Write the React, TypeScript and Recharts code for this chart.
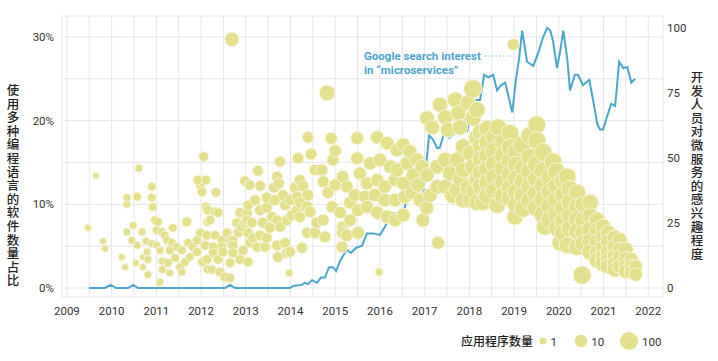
import { ComposedChart, Scatter, Line, XAxis, YAxis, CartesianGrid } from "recharts";

// [year, share of apps using several languages (%), number of apps]
type Bubble = [number, number, number];

const apps2009to2011: Bubble[] = [
  [2009.47, 7.2, 1], [2009.65, 13.4, 1], [2009.81, 5.6, 1], [2009.85, 4.7, 1],
  [2010.23, 3.7, 1], [2010.3, 2.5, 1], [2010.34, 10.0, 1.5], [2010.34, 10.8, 1.5],
  [2010.34, 6.7, 1.5], [2010.45, 5.7, 1.5], [2010.48, 7.5, 1.5], [2010.54, 3.0, 1],
  [2010.57, 10.9, 2], [2010.57, 5.1, 1.5], [2010.61, 14.3, 1.5], [2010.68, 6.7, 1.5],
  [2010.7, 3.7, 1], [2010.7, 2.5, 1], [2010.77, 5.6, 1.5], [2010.79, 4.3, 1.5],
  [2010.81, 3.4, 1.5], [2010.81, 1.6, 1.5], [2010.9, 12.1, 2], [2010.9, 10.8, 2],
  [2010.92, 9.7, 2], [2010.9, 5.3, 1.5], [2010.97, 8.1, 2], [2011.04, 7.9, 2],
  [2011.01, 6.9, 2], [2011.01, 5.1, 1.5], [2011.08, 4.5, 1.5], [2011.08, 0.7, 1.5],
  [2011.13, 6.7, 2], [2011.13, 3.2, 1.5], [2011.13, 2.2, 1.5], [2011.19, 6.3, 2],
  [2011.24, 5.7, 2], [2011.26, 3.0, 2], [2011.3, 4.5, 2], [2011.3, 1.8, 1.5],
  [2011.35, 5.4, 2], [2011.37, 7.2, 2], [2011.42, 3.6, 2], [2011.46, 4.9, 2],
  [2011.53, 2.5, 2], [2011.57, 4.5, 2], [2011.57, 1.9, 1.5], [2011.64, 3.1, 2],
  [2011.68, 7.9, 3.5], [2011.71, 5.4, 2], [2011.75, 3.7, 2], [2011.82, 4.9, 2.5],
  [2011.91, 5.7, 2.5], [2011.91, 4.3, 2.5], [2011.98, 6.6, 2.5], [2011.98, 12.3, 3],
  [2011.93, 12.9, 3],
];

const apps2012to2013: Bubble[] = [
  [2012.02, 11.5, 3], [2012.02, 3.1, 2.5], [2012.06, 15.7, 3.5], [2012.09, 5.1, 3],
  [2012.11, 12.9, 3], [2012.11, 9.7, 3], [2012.13, 6.3, 3], [2012.13, 3.4, 3],
  [2012.15, 9.3, 3], [2012.15, 7.9, 3], [2012.15, 2.2, 2.5], [2012.2, 8.1, 3],
  [2012.24, 2.2, 2.5], [2012.27, 4.9, 3], [2012.27, 4.2, 3], [2012.31, 9.1, 3],
  [2012.31, 6.3, 3], [2012.33, 11.4, 3], [2012.38, 9.0, 3], [2012.38, 3.4, 3],
  [2012.42, 1.9, 3], [2012.47, 5.7, 3], [2012.47, 4.9, 3], [2012.49, 4.3, 3],
  [2012.53, 1.3, 3], [2012.58, 6.6, 3], [2012.65, 5.7, 3], [2012.65, 3.0, 3],
  [2012.65, 1.2, 3], [2012.69, 29.7, 20], [2012.71, 5.7, 3.5], [2012.71, 5.1, 3.5],
  [2012.71, 4.2, 3.5], [2012.8, 7.8, 3.5], [2012.83, 6.6, 3.5], [2012.87, 9.0, 4],
  [2012.87, 3.4, 3.5], [2012.91, 7.3, 4], [2012.94, 4.5, 3.5], [2012.98, 12.8, 4],
  [2012.98, 7.8, 4], [2013.03, 9.0, 4], [2013.03, 8.1, 4], [2013.05, 9.9, 4],
  [2013.05, 6.6, 4], [2013.05, 3.1, 3.5], [2013.09, 12.3, 4], [2013.09, 5.4, 4],
  [2013.14, 7.8, 4], [2013.16, 6.0, 4], [2013.21, 10.5, 4.5], [2013.25, 4.9, 4],
  [2013.27, 14.0, 5], [2013.32, 12.2, 5], [2013.32, 9.3, 5], [2013.32, 6.3, 4.5],
  [2013.38, 7.8, 5], [2013.43, 4.9, 4.5], [2013.47, 10.8, 5], [2013.47, 9.6, 5],
  [2013.47, 6.0, 5], [2013.54, 7.2, 5], [2013.59, 8.5, 5], [2013.63, 12.0, 5],
  [2013.65, 10.5, 5], [2013.7, 13.3, 5.5], [2013.7, 8.1, 5], [2013.7, 5.1, 5],
  [2013.72, 3.7, 5], [2013.74, 12.5, 5.5], [2013.77, 15.1, 5.5], [2013.77, 7.3, 5],
  [2013.83, 11.1, 5.5], [2013.88, 9.9, 5.5], [2013.88, 5.4, 5], [2013.92, 8.1, 5.5],
  [2013.92, 4.2, 5], [2013.97, 1.8, 1.5], [2013.99, 10.5, 5.5], [2013.99, 4.3, 5],
];

const apps2014to2016: Bubble[] = [
  [2014.03, 8.7, 6], [2014.1, 12.0, 6], [2014.15, 10.9, 6], [2014.15, 9.3, 6],
  [2014.17, 15.5, 6], [2014.21, 12.9, 6], [2014.21, 10.2, 6], [2014.21, 8.5, 6],
  [2014.26, 4.8, 6], [2014.28, 12.2, 6], [2014.37, 9.7, 7], [2014.37, 6.6, 6],
  [2014.39, 18.0, 7], [2014.39, 11.1, 7], [2014.44, 9.1, 7], [2014.46, 16.0, 7],
  [2014.55, 14.1, 7], [2014.55, 6.6, 7], [2014.59, 7.8, 7], [2014.7, 14.1, 8],
  [2014.73, 12.7, 8], [2014.73, 8.1, 8], [2014.77, 6.1, 8], [2014.82, 23.3, 40],
  [2014.84, 11.4, 8], [2014.91, 17.9, 9], [2014.93, 9.7, 9], [2014.95, 15.3, 9],
  [2015.0, 16.4, 9], [2015.0, 12.3, 9], [2015.11, 9.0, 10], [2015.15, 4.9, 8],
  [2015.17, 13.3, 10], [2015.17, 7.3, 10], [2015.17, 6.6, 10], [2015.26, 12.1, 10],
  [2015.26, 6.3, 10], [2015.33, 10.2, 11], [2015.33, 8.1, 11], [2015.44, 11.1, 12],
  [2015.49, 17.9, 12], [2015.49, 15.5, 12], [2015.51, 9.3, 12], [2015.51, 6.6, 12],
  [2015.55, 13.7, 12], [2015.67, 10.9, 13], [2015.71, 12.5, 13], [2015.71, 9.7, 13],
  [2015.78, 14.9, 14], [2015.89, 11.1, 14], [2015.94, 18.0, 14], [2015.94, 12.9, 14],
  [2015.94, 9.0, 14], [2015.98, 1.9, 1.5], [2016.0, 15.3, 15], [2016.11, 12.1, 15],
  [2016.11, 10.5, 15], [2016.16, 17.3, 16], [2016.16, 8.5, 15], [2016.23, 14.5, 16],
  [2016.34, 12.9, 17], [2016.34, 10.5, 17], [2016.34, 8.1, 16], [2016.38, 16.5, 17],
  [2016.38, 14.1, 17], [2016.52, 17.1, 18], [2016.52, 12.5, 18], [2016.52, 8.7, 17],
  [2016.56, 10.9, 18], [2016.61, 14.9, 19], [2016.67, 16.3, 19], [2016.72, 11.4, 19],
  [2016.74, 13.5, 20], [2016.83, 15.3, 20], [2016.85, 12.3, 20], [2016.9, 10.5, 20],
  [2016.94, 14.5, 22], [2016.96, 8.1, 18],
];

const apps2017to2018: Bubble[] = [
  [2017.05, 20.3, 25], [2017.05, 13.5, 22], [2017.05, 9.6, 20], [2017.12, 11.1, 22],
  [2017.17, 19.2, 25], [2017.28, 14.5, 25], [2017.28, 12.1, 25], [2017.3, 5.4, 12],
  [2017.34, 21.9, 28], [2017.46, 20.4, 30], [2017.46, 15.3, 30], [2017.46, 12.1, 30],
  [2017.52, 18.9, 30], [2017.57, 13.7, 32], [2017.62, 11.0, 32], [2017.68, 22.5, 35],
  [2017.72, 15.3, 35], [2017.72, 11.7, 35], [2017.75, 20.9, 35], [2017.79, 19.2, 35],
  [2017.8, 13.0, 38], [2017.86, 16.9, 40], [2017.86, 14.1, 40], [2017.86, 10.5, 40],
  [2017.97, 22.1, 40], [2017.97, 12.0, 42], [2018.02, 16.1, 45], [2018.02, 10.5, 45],
  [2018.08, 23.8, 120], [2018.08, 20.3, 45], [2018.08, 14.5, 50], [2018.1, 11.6, 50],
  [2018.17, 21.3, 50], [2018.17, 18.0, 55], [2018.17, 12.9, 55], [2018.17, 10.2, 55],
];

const apps2018to2019: Bubble[] = [
  [2018.25, 18.6, 60], [2018.25, 17.0, 60], [2018.25, 15.4, 60], [2018.25, 13.8, 60],
  [2018.25, 12.2, 60], [2018.31, 10.2, 60],
  [2018.4, 19.0, 70], [2018.4, 17.4, 70], [2018.4, 15.8, 70], [2018.4, 14.2, 70],
  [2018.4, 12.6, 70], [2018.4, 11.0, 70],
  [2018.55, 18.0, 75], [2018.55, 16.4, 75], [2018.55, 14.8, 75], [2018.55, 13.2, 75],
  [2018.55, 11.6, 75], [2018.62, 9.9, 60], [2018.64, 19.2, 70],
  [2018.75, 17.4, 80], [2018.75, 15.8, 80], [2018.75, 14.2, 80], [2018.75, 12.6, 80],
  [2018.75, 11.0, 80],
  [2018.91, 18.5, 85], [2018.91, 16.8, 85], [2018.91, 15.2, 85], [2018.91, 13.6, 85],
  [2018.91, 12.0, 85], [2018.91, 10.8, 85], [2018.98, 29.1, 8], [2019.02, 8.5, 50],
  [2019.05, 16.3, 90], [2019.05, 14.7, 90], [2019.05, 13.1, 90], [2019.05, 11.5, 90],
  [2019.05, 10.0, 90], [2019.18, 17.1, 90],
  [2019.2, 14.3, 90], [2019.2, 12.7, 90], [2019.2, 11.0, 90], [2019.2, 9.5, 90],
  [2019.35, 18.2, 95], [2019.35, 15.6, 95], [2019.35, 13.9, 95], [2019.35, 12.2, 95],
  [2019.35, 10.5, 95],
  [2019.51, 19.5, 100], [2019.51, 17.6, 100], [2019.5, 14.8, 100], [2019.5, 13.0, 100],
  [2019.5, 11.3, 100], [2019.5, 9.6, 100],
  [2019.65, 16.2, 100], [2019.65, 14.0, 100], [2019.65, 12.3, 100], [2019.65, 10.6, 100],
  [2019.65, 8.8, 100], [2019.69, 7.3, 60],
  [2019.8, 13.2, 95], [2019.8, 11.5, 95], [2019.8, 9.8, 95], [2019.8, 8.2, 95],
  [2019.87, 15.1, 90],
  [2019.95, 13.9, 90], [2019.95, 12.2, 90], [2019.95, 10.5, 90], [2019.95, 8.8, 90],
  [2019.96, 7.2, 80],
];

const apps2020to2021: Bubble[] = [
  [2020.03, 5.4, 60],
  [2020.1, 12.8, 80], [2020.1, 11.1, 80], [2020.1, 9.5, 80], [2020.1, 7.9, 80],
  [2020.1, 6.6, 80], [2020.19, 13.3, 80], [2020.19, 5.1, 55],
  [2020.25, 11.8, 75], [2020.25, 10.2, 75], [2020.25, 8.6, 75], [2020.25, 7.1, 75],
  [2020.41, 11.4, 70], [2020.41, 9.7, 70], [2020.41, 8.2, 70], [2020.41, 6.8, 70],
  [2020.41, 4.9, 70], [2020.52, 1.55, 110],
  [2020.55, 10.0, 60], [2020.55, 8.1, 60], [2020.55, 6.6, 60], [2020.55, 5.3, 60],
  [2020.7, 10.2, 55], [2020.7, 8.6, 50], [2020.7, 7.0, 50], [2020.7, 5.6, 50],
  [2020.7, 4.3, 50],
  [2020.86, 8.1, 45], [2020.86, 6.9, 45], [2020.86, 5.5, 45], [2020.86, 4.2, 45],
  [2020.86, 3.3, 45],
  [2020.99, 7.3, 40], [2020.99, 6.0, 40], [2020.99, 4.8, 40], [2020.99, 3.7, 40],
  [2020.99, 2.9, 40],
  [2021.1, 6.6, 35], [2021.1, 5.5, 35], [2021.1, 4.3, 35], [2021.1, 3.4, 35],
  [2021.1, 2.6, 35],
  [2021.25, 6.0, 32], [2021.25, 4.9, 32], [2021.25, 3.8, 32], [2021.25, 2.9, 32],
  [2021.25, 2.2, 32],
  [2021.37, 5.7, 28], [2021.37, 4.6, 28], [2021.37, 3.7, 28], [2021.37, 2.6, 28],
  [2021.5, 4.6, 25], [2021.5, 3.5, 25], [2021.5, 2.6, 25], [2021.5, 2.0, 25],
  [2021.62, 3.4, 20], [2021.62, 2.6, 20], [2021.62, 1.9, 20],
  [2021.72, 2.6, 15], [2021.72, 1.6, 15],
];

// Google search interest in "microservices", [year, interest 0-100]
const searchInterest: [number, number][] = [
  [2009.49, 0], [2009.85, 0], [2009.98, 1.2], [2010.1, 0], [2010.37, 0], [2010.48, 1.2],
  [2010.59, 0], [2012.53, 0], [2012.65, 1.2], [2012.76, 0], [2013.99, 0],
  [2014.06, 0.8], [2014.26, 1.2], [2014.32, 2], [2014.39, 1.5], [2014.48, 3], [2014.59, 2],
  [2014.68, 4], [2014.77, 4], [2014.86, 8], [2014.95, 8], [2015.02, 6.5], [2015.11, 10.5],
  [2015.26, 14.8], [2015.35, 13.5], [2015.47, 15.5], [2015.6, 16.3], [2015.71, 21],
  [2015.85, 21], [2016.0, 20.4], [2016.11, 23.5], [2016.27, 28.8], [2016.38, 28.5],
  [2016.45, 30], [2016.52, 28], [2016.67, 40.4], [2016.79, 36.5], [2016.85, 38.5],
  [2016.94, 31], [2017.1, 58.8], [2017.19, 57], [2017.28, 53.8], [2017.34, 54],
  [2017.46, 61], [2017.55, 57.7], [2017.68, 59.6], [2017.77, 60.4], [2017.86, 72],
  [2017.95, 60], [2018.06, 72.3], [2018.24, 72.3], [2018.33, 82], [2018.42, 81],
  [2018.53, 82], [2018.62, 76], [2018.71, 78], [2018.8, 79], [2018.87, 74],
  [2018.96, 67.5], [2019.04, 80], [2019.11, 88], [2019.18, 99], [2019.29, 87],
  [2019.43, 85.4], [2019.54, 90.4], [2019.65, 96.5], [2019.74, 100], [2019.81, 99],
  [2019.87, 95], [2019.96, 84.6], [2020.03, 91], [2020.1, 99], [2020.19, 88],
  [2020.25, 76], [2020.36, 82], [2020.43, 82], [2020.54, 78], [2020.68, 80],
  [2020.77, 72], [2020.86, 63], [2020.92, 61], [2020.99, 61], [2021.08, 66],
  [2021.17, 70.8], [2021.26, 70], [2021.35, 87], [2021.44, 84.6], [2021.53, 85],
  [2021.62, 79], [2021.71, 80.5],
];

const yearTicks = [2009, 2010, 2011, 2012, 2013, 2014, 2015, 2016, 2017, 2018, 2019, 2020, 2021, 2022];
const shareTicks = [0, 10, 20, 30];
const interestTicks = [0, 25, 50, 75, 100];
const legendSizes = [1, 10, 100];

const leftTitle = "使用多种编程语言的软件数量占比";
const rightTitle = "开发人员对微服务的感兴趣程度";
const legendTitle = "应用程序数量";
const noteLines = ["Google search interest", "in \u201cmicroservices\u201d"];

const FILL = "#e3e08e";
const EDGE = "#f8f6da";
const BLUE = "#4ca6cc";
const GRID = "#e6e6e6";
const TEXT = "#333";

const radius = (apps: number) => 3.5 + 2.75 * Math.log10(apps);

const bubbleData = [
  ...apps2009to2011,
  ...apps2012to2013,
  ...apps2014to2016,
  ...apps2017to2018,
  ...apps2018to2019,
  ...apps2020to2021,
].map(([x, y, apps]) => ({ x, y, r: radius(apps) }));

const trendData = searchInterest.map(([x, v]) => ({ x, v }));

const xGrid = yearTicks.flatMap((y) => [y, y + 0.5]).filter((t) => t <= 2022);
const yGrid = shareTicks.flatMap((t) => [t, t + 5]).filter((t) => t <= 30);

const BubbleShape = (props: any) => (
  <circle cx={props.cx} cy={props.cy} r={props.payload.r} fill={FILL} stroke={EDGE} strokeWidth={1} />
);

const tickStyle = { fontSize: 11.5, fill: TEXT };

const verticalTitle = {
  writingMode: "vertical-rl" as const,
  textOrientation: "upright" as const,
  letterSpacing: "1.1px",
};

export default function App() {
  return (
    <div style={{ position: "absolute", left: 0, top: 0, width: 718, height: 361, background: "#fff", fontFamily: "Roboto, 'Noto Sans', sans-serif" }}>
      <ComposedChart width={718} height={361} margin={{ top: 16, right: 15, bottom: 34, left: 18 }}>
        <CartesianGrid yAxisId="left" stroke={GRID} strokeWidth={1} />
        <XAxis
          type="number"
          dataKey="x"
          domain={[2008.89, 2022.33]}
          allowDataOverflow
          ticks={xGrid}
          interval={0}
          tickFormatter={(v: number) => (Number.isInteger(v) ? String(v) : "")}
          axisLine={false}
          tickLine={false}
          tickSize={0}
          tickMargin={10}
          height={30}
          tick={tickStyle}
        />
        <YAxis
          yAxisId="left"
          type="number"
          dataKey="y"
          domain={[-1.075, 32.5]}
          allowDataOverflow
          ticks={yGrid}
          interval={0}
          tickFormatter={(v: number) => (v % 10 === 0 ? `${v}%` : "")}
          axisLine={false}
          tickLine={false}
          tickSize={0}
          tickMargin={8}
          width={44}
          tick={tickStyle}
        />
        <YAxis
          yAxisId="right"
          orientation="right"
          type="number"
          dataKey="v"
          domain={[-3.46, 104.6]}
          allowDataOverflow
          ticks={interestTicks}
          interval={0}
          axisLine={false}
          tickLine={false}
          tickSize={0}
          tickMargin={4}
          width={40}
          tick={tickStyle}
        />
        <Scatter yAxisId="left" data={bubbleData} shape={BubbleShape} isAnimationActive={false} />
        <Line
          yAxisId="right"
          data={trendData}
          dataKey="v"
          type="linear"
          stroke={BLUE}
          strokeWidth={2}
          dot={false}
          activeDot={false}
          isAnimationActive={false}
        />
      </ComposedChart>

      <svg width={718} height={361} style={{ position: "absolute", left: 0, top: 0, pointerEvents: "none" }}>
        <g fontFamily="'Noto Sans CJK SC', sans-serif" fontSize={12.5} fontWeight={500} fill="#222">
          <text x={13} y={84} style={verticalTitle}>{leftTitle}</text>
          <text x={697} y={71} style={verticalTitle}>{rightTitle}</text>
        </g>

        <g fontWeight={700} fontSize={11.5} fill={BLUE}>
          <text x={364} y={60}>{noteLines[0]}</text>
          <text x={364} y={74}>{noteLines[1]}</text>
        </g>
        <line x1={485} y1={56} x2={513} y2={56} stroke="#8cc3da" strokeWidth={1} strokeDasharray="1.5 2" />

        <text x={461} y={346} fontFamily="'Noto Sans CJK SC', sans-serif" fontSize={12} fontWeight={500} fill="#222">
          {legendTitle}
        </text>
        {legendSizes.map((n, i) => {
          const cx = [543, 581, 629][i];
          const r = radius(n);
          return (
            <g key={n}>
              <circle cx={cx} cy={341} r={r} fill={FILL} />
              <text x={cx + r + 4} y={345.5} fontSize={11.5} fill={TEXT}>{n}</text>
            </g>
          );
        })}
      </svg>
    </div>
  );
}
